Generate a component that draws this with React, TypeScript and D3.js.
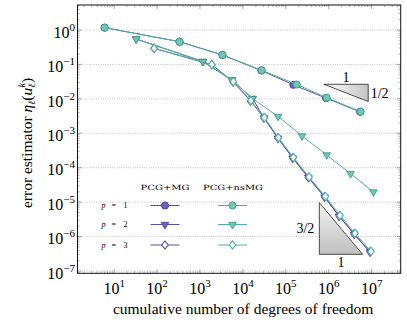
import React from "react";
import * as d3 from "d3";

// cumulative dofs / estimator values
const mgP1Dofs = [6, 333, 3330, 27000, 150000, 870000, 5.4e6];
const mgP1Err = [1.17, 0.457, 0.188, 0.0665, 0.0255, 0.0105, 0.0042];
const mgP2Dofs = [32.6, 1165, 5520, 16800, 31000, 66000, 145000, 335000, 800000, 1.74e6, 3.9e6, 9.1e6];
const mgP2Err = [0.548, 0.1216, 0.0353, 0.0102, 0.0028, 7.2e-4, 1.9e-4, 5.2e-5, 1.4e-5, 3.9e-6, 1.17e-6, 3.55e-7];
const mgP3Dofs = [85, 1890, 5900, 15000, 31000, 65000, 145000, 335000, 800000, 1.75e6, 3.9e6, 9.2e6];
const mgP3Err = [0.294, 0.098, 0.031, 0.0087, 0.0028, 7.3e-4, 1.93e-4, 5.2e-5, 1.42e-5, 3.95e-6, 1.19e-6, 3.6e-7];

const nsP1Dofs = [6, 333, 3330, 27500, 180000, 898000, 5.56e6];
const nsP1Err = [1.17, 0.457, 0.188, 0.0675, 0.0261, 0.0108, 0.00424];
const nsP2Dofs = [32.6, 1165, 5520, 16800, 66000, 239000, 898000, 3.22e6, 1.1e7];
const nsP2Err = [0.548, 0.1216, 0.0353, 0.0102, 0.00308, 8.34e-4, 2.34e-4, 6.7e-5, 1.97e-5];
const nsP3Dofs = [85.6, 1890, 6010, 15300, 31700, 67100, 150000, 348000, 834000, 1.83e6, 4.1e6, 9.66e6];
const nsP3Err = [0.294, 0.098, 0.0315, 0.00885, 0.00287, 7.45e-4, 1.98e-4, 5.37e-5, 1.46e-5, 4.1e-6, 1.24e-6, 3.74e-7];

const xTickExps = [1, 2, 3, 4, 5, 6, 7];
const yTickExps = [0, -1, -2, -3, -4, -5, -6, -7];
const legendRows = ["1", "2", "3"];
const methods = ["PCG+MG", "PCG+nsMG"];

const W = 407;
const H = 329;
const left = 77.5;
const right = 400.7;
const top = 5;
const bottom = 273.3;

const TEAL = "#4fb09f";
const TEAL_FILL = "#70c7b5";
const TEAL_DARK = "#389383";
const PURP = "#5a4fa8";
const PURP_FILL = "#6d63ba";
const PURP_DARK = "#43398f";

const x = d3.scaleLog().domain([1.4, 4.75e7]).range([left, right]);
const y = d3.scaleLog().domain([8.57e-8, 5.32]).range([bottom, top]);

const line = d3
  .line<[number, number]>()
  .x((d) => x(d[0]))
  .y((d) => y(d[1]));

type Shape = "circle" | "tri" | "diamond";

const Marker = ({ cx, cy, shape, fill, stroke }: { cx: number; cy: number; shape: Shape; fill: string; stroke: string }) => {
  if (shape === "circle") return <circle cx={cx} cy={cy} r={3.6} fill={fill} stroke={stroke} strokeWidth={0.8} />;
  if (shape === "tri") {
    const r = 4.4;
    const pts = [
      [cx - r * 0.866, cy - r * 0.5],
      [cx + r * 0.866, cy - r * 0.5],
      [cx, cy + r],
    ];
    return <polygon points={pts.map((p) => p.join(",")).join(" ")} fill={fill} stroke={stroke} strokeWidth={0.8} />;
  }
  const pts = [
    [cx, cy - 4.2],
    [cx + 3.2, cy],
    [cx, cy + 4.2],
    [cx - 3.2, cy],
  ];
  return <polygon points={pts.map((p) => p.join(",")).join(" ")} fill="white" stroke={stroke} strokeWidth={1.1} />;
};

const Series = ({ dofs, err, shape, color, fill, dark }: any) => {
  const pts: [number, number][] = dofs.map((d: number, i: number) => [d, err[i]]);
  return (
    <g>
      <path d={line(pts) || ""} fill="none" stroke={color} strokeWidth={1} />
      {pts.map((p, i) => (
        <Marker key={i} cx={x(p[0])} cy={y(p[1])} shape={shape} fill={fill} stroke={shape === "diamond" ? color : dark} />
      ))}
    </g>
  );
};

const minorTicks = (lo: number, hi: number) => {
  const out: number[] = [];
  for (let e = lo; e <= hi; e++) for (let m = 2; m <= 9; m++) out.push(m * Math.pow(10, e));
  return out;
};

export default function App() {
  const serif = "'Liberation Serif', 'DejaVu Serif', serif";
  const xMinor = minorTicks(0, 7).filter((v) => v > 1.4 && v < 4.75e7);
  const yMinor = minorTicks(-8, 0).filter((v) => v > 8.57e-8 && v < 5.32);
  const tickCol = "#8a8a8a";

  // slope triangles (in data coordinates)
  const s1 = { x0: Math.pow(10, 5.89), x1: Math.pow(10, 6.92), yTop: Math.pow(10, -1.577), yBot: Math.pow(10, -2.077) };
  const s2 = { x0: Math.pow(10, 5.781), x1: Math.pow(10, 6.79), yTop: Math.pow(10, -5.016), yBot: Math.pow(10, -6.516) };

  const legendX = [165, 232.5];
  const legendY = [205.5, 224.5, 245];
  const shapes: Shape[] = ["circle", "tri", "diamond"];

  return (
    <svg width={W} height={H} style={{ position: "absolute", left: 0, top: 0 }} fontFamily={serif}>
      <defs>
        <linearGradient id="g1" x1="0" x2="1" y1="0" y2="0">
          <stop offset="0" stopColor="#ffffff" />
          <stop offset="1" stopColor="#c4c4c4" />
        </linearGradient>
        <linearGradient id="g2" x1="0" x2="0" y1="0" y2="1">
          <stop offset="0" stopColor="#f2f2f2" />
          <stop offset="1" stopColor="#c0c0c0" />
        </linearGradient>
        <clipPath id="clip">
          <rect x={left} y={top} width={right - left} height={bottom - top} />
        </clipPath>
      </defs>
      <rect width={W} height={H} fill="white" />

      {/* grid */}
      {yTickExps.map((e) => (
        <line key={e} x1={left} x2={right} y1={y(Math.pow(10, e))} y2={y(Math.pow(10, e))} stroke="#b5b5b5" strokeWidth={0.8} strokeDasharray="1,1.3" />
      ))}

      {/* ticks */}
      {xMinor.map((v, i) => (
        <g key={"xm" + i} stroke={tickCol} strokeWidth={0.6}>
          <line x1={x(v)} x2={x(v)} y1={bottom} y2={bottom - 2.2} />
          <line x1={x(v)} x2={x(v)} y1={top} y2={top + 2.2} />
        </g>
      ))}
      {xTickExps.map((e) => (
        <g key={"xM" + e} stroke={tickCol} strokeWidth={0.8}>
          <line x1={x(Math.pow(10, e))} x2={x(Math.pow(10, e))} y1={bottom} y2={bottom - 4} />
          <line x1={x(Math.pow(10, e))} x2={x(Math.pow(10, e))} y1={top} y2={top + 4} />
        </g>
      ))}
      {yMinor.map((v, i) => (
        <g key={"ym" + i} stroke={tickCol} strokeWidth={0.6}>
          <line x1={left} x2={left + 2.2} y1={y(v)} y2={y(v)} />
          <line x1={right} x2={right - 2.2} y1={y(v)} y2={y(v)} />
        </g>
      ))}
      {yTickExps.map((e) => (
        <g key={"yM" + e} stroke={tickCol} strokeWidth={0.8}>
          <line x1={left} x2={left + 4} y1={y(Math.pow(10, e))} y2={y(Math.pow(10, e))} />
          <line x1={right} x2={right - 4} y1={y(Math.pow(10, e))} y2={y(Math.pow(10, e))} />
        </g>
      ))}

      {/* slope triangles */}
      <polygon
        points={`${x(s1.x0)},${y(s1.yTop)} ${x(s1.x1)},${y(s1.yTop)} ${x(s1.x1)},${y(s1.yBot)}`}
        fill="url(#g1)"
        stroke="#222"
        strokeWidth={0.8}
      />
      <polygon
        points={`${x(s2.x0)},${y(s2.yTop)} ${x(s2.x0)},${y(s2.yBot)} ${x(s2.x1)},${y(s2.yBot)}`}
        fill="url(#g2)"
        stroke="#222"
        strokeWidth={0.8}
      />
      <text x={(x(s1.x0) + x(s1.x1)) / 2} y={y(s1.yTop) - 2.5} fontSize={14} textAnchor="middle">1</text>
      <text x={x(s1.x1) + 2.5} y={y(s1.yBot) - 4} fontSize={14}>1/2</text>
      <text x={x(s2.x0) - 5} y={(y(s2.yTop) + y(s2.yBot)) / 2 + 4.5} fontSize={14} textAnchor="end">3/2</text>
      <text x={(x(s2.x0) + x(s2.x1)) / 2} y={y(s2.yBot) + 13} fontSize={14} textAnchor="middle">1</text>

      {/* data */}
      <g clipPath="url(#clip)">
        <Series dofs={mgP1Dofs} err={mgP1Err} shape="circle" color={PURP} fill={PURP_FILL} dark={PURP_DARK} />
        <Series dofs={mgP2Dofs} err={mgP2Err} shape="tri" color={PURP} fill={PURP_FILL} dark={PURP_DARK} />
        <Series dofs={mgP3Dofs} err={mgP3Err} shape="diamond" color={PURP} fill={PURP_FILL} dark={PURP_DARK} />
        <Series dofs={nsP1Dofs} err={nsP1Err} shape="circle" color={TEAL} fill={TEAL_FILL} dark={TEAL_DARK} />
        <Series dofs={nsP2Dofs} err={nsP2Err} shape="tri" color={TEAL} fill={TEAL_FILL} dark={TEAL_DARK} />
        <Series dofs={nsP3Dofs} err={nsP3Err} shape="diamond" color={TEAL} fill={TEAL_FILL} dark={TEAL_DARK} />
      </g>

      {/* legend */}
      {methods.map((m, i) => (
        <text
          key={m}
          x={legendX[i] + (i === 0 ? 0 : 0.5)}
          y={189.5}
          fontSize={7.2}
          fontFamily="'DejaVu Serif', serif"
          textAnchor="middle"
          textLength={i === 0 ? 49 : 60}
          lengthAdjust="spacingAndGlyphs"
        >
          {m}
        </text>
      ))}
      {legendRows.map((p, r) => (
        <g key={p}>
          <text x={101.5} y={legendY[r] + 2.8} fontSize={8}>
            <tspan fontStyle="italic">p</tspan>
            <tspan x={111.5}>=</tspan>
            <tspan x={123.5}>{p}</tspan>
          </text>
          {[0, 1].map((c) => {
            const col = c === 0 ? PURP : TEAL;
            return (
              <g key={c}>
                <line x1={legendX[c] - 14.5} x2={legendX[c] + 14.5} y1={legendY[r]} y2={legendY[r]} stroke={col} strokeWidth={1} />
                <Marker
                  cx={legendX[c]}
                  cy={legendY[r]}
                  shape={shapes[r]}
                  fill={c === 0 ? PURP_FILL : TEAL_FILL}
                  stroke={shapes[r] === "diamond" ? col : c === 0 ? PURP_DARK : TEAL_DARK}
                />
              </g>
            );
          })}
        </g>
      ))}

      {/* frame */}
      <rect x={left} y={top} width={right - left} height={bottom - top} fill="none" stroke="#111" strokeWidth={1} />

      {/* tick labels */}
      {xTickExps.map((e) => (
        <text key={"xl" + e} x={x(Math.pow(10, e))} y={293.5} fontSize={16} textAnchor="middle">
          10<tspan dy={-7} fontSize={11}>{e}</tspan>
        </text>
      ))}
      {yTickExps.map((e) => (
        <text key={"yl" + e} x={75} y={y(Math.pow(10, e)) + 7.7} fontSize={16} textAnchor="end">
          10<tspan dy={-7} fontSize={11}>{e === 0 ? "0" : "\u2212" + -e}</tspan>
        </text>
      ))}

      {/* axis titles */}
      <text x={(left + right) / 2 + 4} y={314} fontSize={15.5} textAnchor="middle">
        cumulative number of degrees of freedom
      </text>
      <text transform="translate(31.5,143) rotate(-90)" fontSize={15.5} textAnchor="middle">
        error estimator <tspan fontStyle="italic">η</tspan>
        <tspan dy={3.5} fontSize={10} fontStyle="italic">ℓ</tspan>
        <tspan dy={-3.5}>(</tspan>
        <tspan fontStyle="italic">u</tspan>
        <tspan dy={3.5} fontSize={10} fontStyle="italic">ℓ</tspan>
        <tspan dx={-4} dy={-10} fontSize={10} fontStyle="italic">k</tspan>
        <tspan dy={6.5}>)</tspan>
      </text>
    </svg>
  );
}
